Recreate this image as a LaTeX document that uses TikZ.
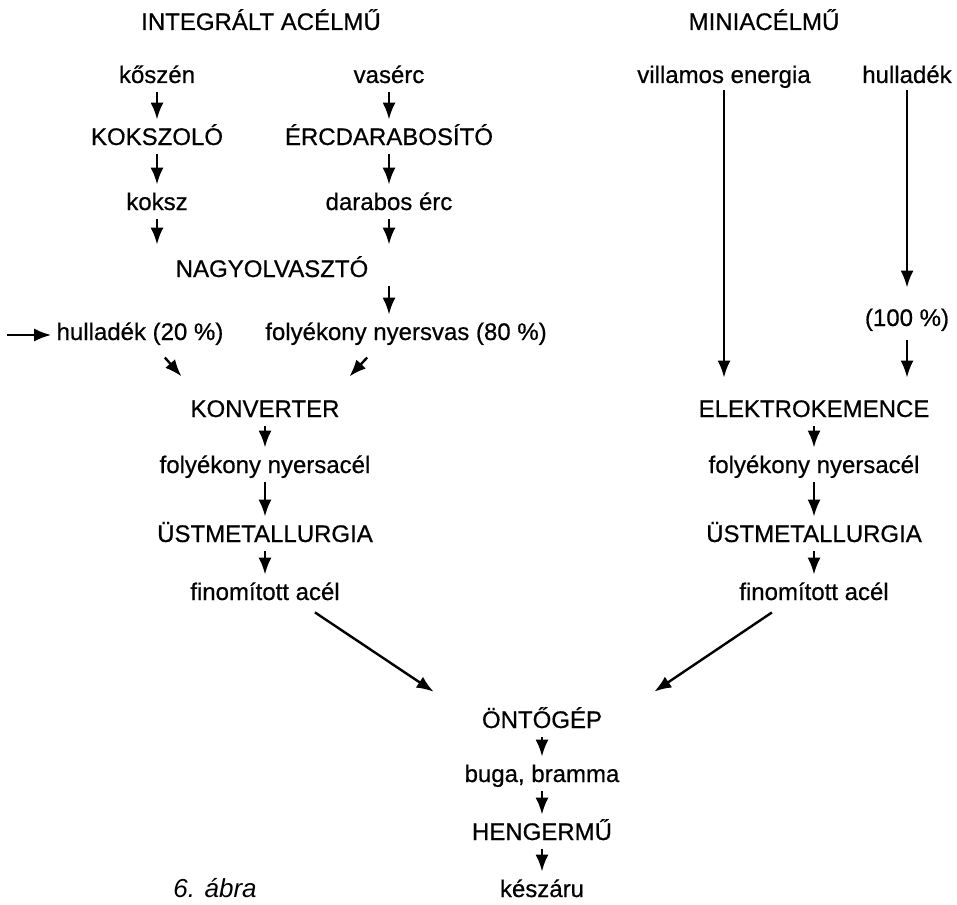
\documentclass[tikz,border=0pt]{standalone}
\usepackage{fontspec}
\setmainfont{Liberation Sans}
\newfontfamily\lblfont[FakeBold=0.6]{Liberation Sans}
\usetikzlibrary{arrows.meta}

\tikzset{
	lbl/.style={inner sep=0pt, text height=8pt, text depth=0pt, anchor=base, font=\lblfont\fontsize{12}{14}\selectfont},
	arr/.style={-{Latex[length=8.5pt,width=6.5pt]}, line width=1.2pt, shorten <=4.5pt, shorten >=4.5pt}
}

\begin{document}
\begin{tikzpicture}[x=0.5pt,y=-0.5pt]
	\useasboundingbox (0,0) rectangle (957,904);
	
	\node[lbl] (titleL) at (261,30) {INTEGRÁLT ACÉLMŰ};
	\node[lbl] (titleR) at (764,30) {MINIACÉLMŰ};
	
	\node[lbl] (koszen) at (157,83) {kőszén};
	\node[lbl] (kokszolo) at (157,145) {KOKSZOLÓ};
	\node[lbl] (koksz) at (157,210) {koksz};
	\node[lbl] (vaserc) at (389,83) {vasérc};
	\node[lbl] (ercdarab) at (389,145) {ÉRCDARABOSÍTÓ};
	\node[lbl] (darabos) at (389,210) {darabos érc};
	\node[lbl] (nagy) at (272,277) {NAGYOLVASZTÓ};
	\node[lbl] (hull20) at (140,340) {hulladék (20 \%)};
	\node[lbl] (nyersvas) at (406,340) {folyékony nyersvas (80 \%)};
	
	\node[lbl] (villamos) at (724,83) {villamos energia};
	\node[lbl] (hullR) at (907,83) {hulladék};
	\node[lbl] (szaz) at (907,326) {(100 \%)};
	
	\foreach \n/\y/\t in {konv/417/KONVERTER, acelL/473/folyékony nyersacél, ustL/542/ÜSTMETALLURGIA, finL/600/finomított acél}
		\node[lbl] (\n) at (265,\y) {\t};
	\foreach \n/\y/\t in {elektro/417/ELEKTROKEMENCE, acelR/473/folyékony nyersacél, ustR/542/ÜSTMETALLURGIA, finR/600/finomított acél}
		\node[lbl] (\n) at (814,\y) {\t};
	\foreach \n/\y/\t in {onto/728/ÖNTŐGÉP, buga/782/{buga, bramma}, henger/840/HENGERMŰ, kesz/897/készáru}
		\node[lbl] (\n) at (542,\y) {\t};
	
	\node[lbl, font=\fontsize{13}{15}\selectfont\itshape] (abra) at (215,897) {6. ábra};
	
	\foreach \a/\b in {koszen/kokszolo, kokszolo/koksz, vaserc/ercdarab, ercdarab/darabos, konv/acelL, acelL/ustL, ustL/finL, elektro/acelR, acelR/ustR, ustR/finR, onto/buga, buga/henger, henger/kesz}
		\draw[arr] (\a.south) -- (\b.north);
	
	\draw[arr, shorten >=8pt] (koksz.south) -- (koksz.south |- nagy.north);
	\draw[arr, shorten >=8pt] (darabos.south) -- (darabos.south |- nagy.north);
	\draw[arr] (darabos.south |- nagy.south) -- (darabos.south |- nyersvas.north);
	
	\coordinate (scrapin) at (7,335);
	\draw[arr, shorten <=0pt, shorten >=2.5pt] (scrapin) -- (scrapin -| hull20.west);
	
	\draw[arr, shorten <=11.4pt, shorten >=16.1pt] ([xshift=4.9pt]hull20.south) -- ([xshift=6.3pt]konv.north west);
	\draw[arr, shorten <=11.7pt, shorten >=16.5pt] ([xshift=-11.4pt]nyersvas.south) -- ([xshift=-6.5pt]konv.north east);
	
	\draw[arr, shorten <=3.5pt, shorten >=11.5pt] (villamos.south) -- (villamos.south |- elektro.north);
	\draw[arr, shorten <=3.5pt, shorten >=11pt] (hullR.south) -- (szaz.north);
	\draw[arr, shorten <=7pt, shorten >=11.5pt] (szaz.south) -- (szaz.south |- elektro.north);
	
	\draw[arr, shorten <=10.8pt, shorten >=17.9pt] ([xshift=16pt]finL.south) -- ([xshift=-9.1pt]onto.north west);
	\draw[arr, shorten <=10.8pt, shorten >=17.9pt] ([xshift=-12.1pt]finR.south) -- ([xshift=11.1pt]onto.north east);
	
\end{tikzpicture}
\end{document}
